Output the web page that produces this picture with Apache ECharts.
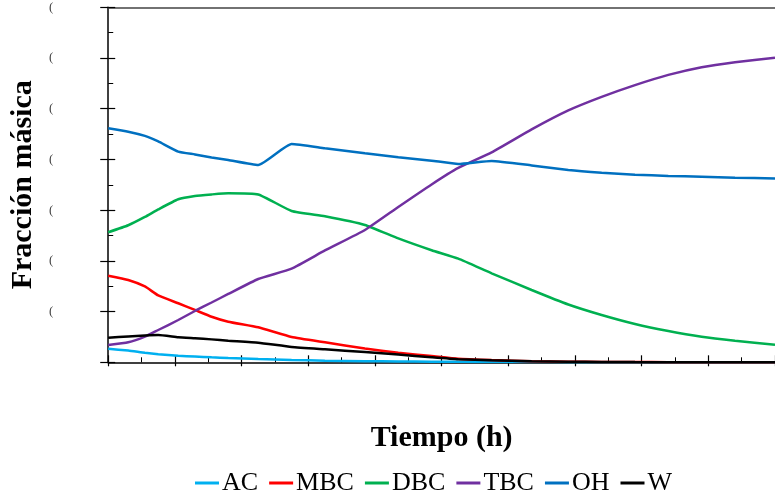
<!DOCTYPE html>
<html>
<head>
<meta charset="utf-8">
<script src="https://cdn.jsdelivr.net/npm/echarts@6/dist/echarts.min.js"></script>
<style>
html,body{margin:0;padding:0;background:#fff;}
#chart{width:775px;height:497px;}
</style>
</head>
<body>
<div id="chart"></div>
<script>
// Time (h)
var tiempo = [0, 0.3, 0.55, 0.75, 1.05, 1.3, 1.55, 1.8, 2.25, 2.75, 3.25, 3.85, 4.35, 4.85, 5.25, 5.75, 6.35, 6.9, 7.4, 7.9, 8.4, 8.9, 9.4, 10];
// Mass fractions
var AC  = [0.0268, 0.0231, 0.0187, 0.0160, 0.0130, 0.0114, 0.0099, 0.0085, 0.0065, 0.0045, 0.0032, 0.0022, 0.0016, 0.0012, 0.0009, 0.0006, 0.0004, 0.0003, 0.0002, 0.0001, 0.0001, 0.0001, 0.0001, 0.0001];
var MBC = [0.1708, 0.1623, 0.1495, 0.1318, 0.1164, 0.1032, 0.0899, 0.0801, 0.0690, 0.0499, 0.0394, 0.0272, 0.0187, 0.0124, 0.0071, 0.0045, 0.0022, 0.0012, 0.0008, 0.0005, 0.0003, 0.0002, 0.0001, 0.0001];
var DBC = [0.2564, 0.2702, 0.2866, 0.3014, 0.3215, 0.3280, 0.3310, 0.3333, 0.3310, 0.2984, 0.2880, 0.2708, 0.2442, 0.2209, 0.2043, 0.1755, 0.1426, 0.1140, 0.0933, 0.0756, 0.0617, 0.0505, 0.0426, 0.0347];
var TBC = [0.0341, 0.0394, 0.0505, 0.0637, 0.0834, 0.1012, 0.1179, 0.1347, 0.1643, 0.1846, 0.2205, 0.2609, 0.3063, 0.3507, 0.3832, 0.4138, 0.4592, 0.4966, 0.5233, 0.5465, 0.5667, 0.5819, 0.5917, 0.6006];
var OH  = [0.4615, 0.4548, 0.4464, 0.4355, 0.4154, 0.4099, 0.4039, 0.3990, 0.3892, 0.4306, 0.4221, 0.4122, 0.4043, 0.3976, 0.3911, 0.3970, 0.3882, 0.3793, 0.3740, 0.3700, 0.3675, 0.3661, 0.3641, 0.3625];
var W   = [0.0485, 0.0511, 0.0529, 0.0538, 0.0493, 0.0473, 0.0452, 0.0426, 0.0387, 0.0302, 0.0256, 0.0203, 0.0154, 0.0099, 0.0059, 0.0039, 0.0022, 0.0012, 0.0007, 0.0004, 0.0003, 0.0002, 0.0001, 0.0001];

var seriesNames = ['AC', 'MBC', 'DBC', 'TBC', 'OH', 'W'];
var seriesValues = [AC, MBC, DBC, TBC, OH, W];
var seriesColors = ['#00B0F0', '#FF0000', '#00B050', '#7030A0', '#0070C0', '#000000'];

var FONT = "'Liberation Serif', 'Times New Roman', serif";

function pairs(vals) {
  return tiempo.map(function (t, i) { return [t, vals[i]]; });
}

var series = seriesNames.map(function (name, k) {
  return {
    name: name,
    type: 'line',
    data: pairs(seriesValues[k]),
    showSymbol: false,
    smooth: 0.15,
    lineStyle: { width: 2.5, color: seriesColors[k] },
    itemStyle: { color: seriesColors[k] },
    z: 3 + k
  };
});

var chart = echarts.init(document.getElementById('chart'), null, { renderer: 'canvas' });
chart.setOption({
  animation: false,
  backgroundColor: '#ffffff',
  grid: { left: 107.7, top: 7.3, width: 673, height: 355, containLabel: false },
  legend: {
    data: seriesNames,
    left: 190,
    top: 465,
    icon: 'rect',
    itemWidth: 24,
    itemHeight: 3,
    itemGap: 11,
    textStyle: { fontFamily: FONT, fontSize: 26, color: '#000', padding: [0, 0, 0, -2] }
  },
  xAxis: [
    {
      type: 'value', min: 0, max: 10, interval: 1,
      name: 'Tiempo (h)', nameLocation: 'middle', nameGap: 61,
      nameTextStyle: { fontFamily: FONT, fontSize: 30, fontWeight: 'bold', color: '#000' },
      axisLine: { show: true, lineStyle: { color: '#000', width: 1.5 } },
      axisTick: { show: true, inside: true, length: 7, lineStyle: { color: '#000', width: 1.2 } },
      minorTick: { show: true, splitNumber: 2, length: 5, lineStyle: { color: '#000', width: 1 } },
      axisLabel: { show: false },
      splitLine: { show: false }
    },
    {
      type: 'value', min: 0, max: 10, interval: 1, position: 'bottom',
      axisLine: { show: false },
      axisTick: { show: true, inside: false, length: 4, lineStyle: { color: '#000', width: 1.2 } },
      axisLabel: { show: false },
      splitLine: { show: false }
    },
    {
      type: 'value', min: 0, max: 10, interval: 1, position: 'top',
      axisLine: { show: true, lineStyle: { color: '#444', width: 1.5 } },
      axisTick: { show: false },
      axisLabel: { show: false },
      splitLine: { show: false }
    }
  ],
  yAxis: [
    {
      type: 'value', min: 0, max: 0.7, interval: 0.1,
      name: 'Fracción másica', nameLocation: 'middle', nameGap: 68,
      nameTextStyle: { fontFamily: FONT, fontSize: 30, fontWeight: 'bold', color: '#000' },
      axisLine: { show: true, lineStyle: { color: '#000', width: 1.5 } },
      axisTick: { show: true, inside: true, length: 7, lineStyle: { color: '#000', width: 1.2 } },
      minorTick: { show: true, splitNumber: 2, length: 5, lineStyle: { color: '#000', width: 1 } },
      axisLabel: {
        show: true, margin: 55, fontFamily: FONT, fontSize: 13, color: '#444',
        formatter: function (v) { return v === 0 ? '' : '('; }
      },
      splitLine: { show: false }
    },
    {
      type: 'value', min: 0, max: 0.7, interval: 0.1, position: 'left',
      axisLine: { show: false },
      axisTick: { show: true, inside: false, length: 8, lineStyle: { color: '#000', width: 1.2 } },
      axisLabel: { show: false },
      splitLine: { show: false }
    }
  ],
  series: series
});
</script>
</body>
</html>
